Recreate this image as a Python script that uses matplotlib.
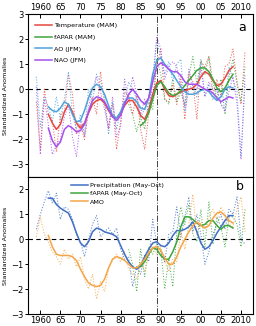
import matplotlib
matplotlib.use('Agg')
import matplotlib.pyplot as plt
import numpy as np

# annual values (dotted) and smoothed values (solid)
YEARS_ANN = np.arange(1959, 2012)
YEARS_SM = np.arange(1962, 2009)
YEARS_FP_ANN = np.arange(1982, 2012)
YEARS_FP_SM = np.arange(1985, 2009)

temp_ann = [-0.5, -2.4,
            0.0, -1.0, -1.3, -2.5, -1.0, -0.9, 0.6, -0.2, -1.8, -1.4,
            -2.0, -0.9, -0.3, -1.0, 0.7, -0.6, -1.5, -0.6, -2.4, -1.3,
            -0.1, -0.3, -1.0, -0.2, -1.6, -2.4, -1.0, -0.3, 0.9, 1.6,
            -0.4, -0.5, 0.2, -0.6, 0.5, -1.2, 0.6, 0.3, -1.2, 1.1,
            0.9, 1.3, -0.2, 0.4, -0.3, 0.9, 1.0, 1.6, 0.3, -0.6, 1.5]
ao_ann = [0.5, -1.5,
          -0.3, -0.7, -1.3, -0.3, -1.2, -0.4, 0.7, -1.0, -1.6, -1.0,
          -1.8, 0.0, -0.5, 0.6, 0.3, -0.3, -1.8, -0.5, -1.6, -0.9,
          -0.5, 0.3, 0.0, -0.4, -1.1, -0.8, -0.9, 0.4, 1.9, 1.3,
          0.6, 1.1, 0.3, 1.0, 1.2, -0.9, 0.0, 0.2, -0.3, 1.1,
          -0.3, 0.2, -0.4, 0.0, -0.6, -0.8, 0.9, 0.4, -0.1, -2.7, 0.2]
nao_ann = [0.1, -2.6,
           -0.4, -1.4, -2.6, -2.2, -2.0, -1.1, -0.6, -1.9, -2.7, -1.2,
           -1.9, -0.7, 0.0, 0.5, -0.1, -0.8, -1.6, -0.3, -1.9, -1.5,
           0.4, -0.5, 0.5, -0.2, -1.0, -0.4, -0.9, 0.3, 2.1, 1.6,
           0.4, 0.9, 1.1, 0.9, 0.1, -0.7, 0.8, 0.1, 0.0, 0.9,
           -0.3, 0.3, 0.0, 0.0, -0.6, -0.9, -0.1, 0.5, -0.6, -2.8, 0.6]
fapar_mam_ann = [-0.6, -1.0, -1.7, -1.1, -1.6, -0.5, -0.8, 1.2, 0.6,
                 -0.4, -0.6, 0.4, -0.5, -0.1, -0.6, 0.5, 1.3, 0.2, 1.2,
                 0.6, 1.3, 0.3, -0.4, 0.4, -1.0, 0.5, 1.2, 0.2, -0.5, 0.9]

temp_sm = [-1.0, -1.35, -1.6, -1.4, -0.9, -0.6, -0.9, -1.35, -1.55,
           -1.35, -0.95, -0.6, -0.45, -0.4, -0.55, -0.85, -1.1, -1.15, -0.95,
           -0.65, -0.45, -0.45, -0.7, -1.05, -1.2, -0.85, -0.2, 0.25, 0.35,
           0.0, -0.25, -0.3, -0.2, -0.1, -0.05, 0.0, 0.05, 0.2, 0.5,
           0.7, 0.6, 0.35, 0.15, 0.2, 0.45, 0.75, 0.9]
ao_sm = [-0.7, -0.85, -0.9, -0.75, -0.5, -0.6, -1.0, -1.3, -1.25,
         -0.85, -0.35, 0.05, 0.2, 0.1, -0.2, -0.65, -1.05, -1.15, -0.9,
         -0.5, -0.35, -0.35, -0.5, -0.75, -0.8, -0.35, 0.6, 1.15, 1.25,
         1.0, 0.8, 0.6, 0.35, 0.1, -0.1, -0.2, -0.2, -0.15, -0.05,
         0.0, -0.1, -0.3, -0.45, -0.3, 0.0, 0.1, 0.05]
nao_sm = [-1.55, -2.05, -2.3, -2.1, -1.6, -1.45, -1.55, -1.7, -1.65,
          -1.4, -0.9, -0.45, -0.3, -0.35, -0.5, -0.8, -1.1, -1.25, -1.05,
          -0.6, -0.2, 0.0, -0.2, -0.45, -0.6, -0.35, 0.3, 0.9, 1.05,
          0.95, 0.8, 0.7, 0.7, 0.55, 0.3, 0.2, 0.2, 0.2, 0.1,
          0.0, -0.05, -0.15, -0.35, -0.5, -0.4, -0.3, -0.35]
fapar_mam_sm = [-1.45, -1.3, -0.95, -0.4, 0.15, 0.3, 0.1, -0.15, -0.25, -0.2,
                -0.05, 0.15, 0.35, 0.55, 0.75, 0.85, 0.85, 0.7, 0.4, 0.05,
                -0.1, 0.05, 0.35, 0.6]

precip_ann = [0.4, 1.0,
              1.5, 1.95, 1.45, 1.85, 0.8, 1.3, 1.2, 0.8, 0.2, -0.1,
              -0.7, 0.0, 0.6, 0.95, 0.1, 0.3, 0.45, 0.2, 0.45, -0.4,
              -0.8, -0.7, -1.9, -1.1, -1.4, -0.6, -0.9, 0.8, -0.2, -0.5,
              -0.9, 0.2, 0.3, 1.3, 0.1, 0.9, 1.7, 0.3, 1.0, 0.2,
              -1.0, -0.5, 0.2, 0.6, 1.0, 0.4, 1.2, 1.0, 1.7, 0.0, -0.2]
amo_ann = [0.1, 0.9,
           0.2, -0.1, -0.5, -0.7, -1.0, -0.4, -0.8, -0.6, -1.1, -0.7,
           -1.6, -2.0, -1.4, -2.4, -1.7, -2.1, -1.2, -0.8, -0.6, -0.9,
           -0.5, -1.2, -1.4, -1.6, -0.9, -1.3, -0.6, -0.2, -0.6, -0.3,
           -0.9, -1.3, -0.8, -0.9, 0.3, -0.4, 0.6, 1.8, 0.2, 0.7,
           0.5, 0.9, 1.2, 0.8, 1.3, 1.0, 0.6, 0.5, 1.2, 1.7, 0.3]
fapar_mo_ann = [-0.4, -1.0, -2.1, -0.4, -1.5, -0.3, -0.6, -0.2, -0.4,
                -2.0, -0.8, -1.9, 0.3, 1.3, 0.6, 1.4, 0.2, -0.1, 1.2,
                -0.3, 1.5, -0.2, 0.9, 0.5, -0.3, 0.9, 0.9, 0.6, -0.3, 1.2]

precip_sm = [1.65, 1.65, 1.4, 1.25, 1.15, 1.05, 0.7, 0.25, -0.15,
             -0.3, -0.1, 0.3, 0.45, 0.4, 0.3, 0.25, 0.2, 0.1, -0.25,
             -0.6, -0.9, -1.1, -1.2, -1.05, -0.7, -0.4, -0.15, -0.1, -0.25,
             -0.3, -0.15, 0.15, 0.35, 0.35, 0.4, 0.5, 0.7, 0.3, -0.15,
             -0.4, -0.3, -0.05, 0.25, 0.5, 0.75, 0.95, 0.95]
amo_sm = [0.15, -0.3, -0.6, -0.65, -0.65, -0.65, -0.7, -0.85, -1.2,
          -1.5, -1.75, -1.85, -1.9, -1.85, -1.6, -1.15, -0.8, -0.7, -0.75,
          -0.85, -1.0, -1.15, -1.15, -1.0, -0.8, -0.55, -0.35, -0.3, -0.45,
          -0.75, -1.0, -1.0, -0.7, -0.3, 0.0, 0.3, 0.55, 0.7, 0.55,
          0.45, 0.55, 0.85, 1.05, 1.1, 0.95, 0.75, 0.65]
fapar_mo_sm = [-1.1, -0.9, -0.6, -0.35, -0.4, -0.65, -0.8, -0.8, -0.5, -0.1,
               0.5, 0.9, 0.9, 0.8, 0.65, 0.55, 0.6, 0.75, 0.75, 0.55,
               0.4, 0.55, 0.55, 0.45]

XTICKS = [1960, 1965, 1970, 1975, 1980, 1985, 1990, 1995, 2000, 2005, 2010]
XTICKLABELS = ['1960', '65', '70', '75', '80', '85', '90', '95', '00', '05', '2010']

RED, GREEN, LBLUE, PURPLE = '#e8463e', '#3ea53c', '#4ea2dc', '#a650ee'
BLUE, ORANGE = '#3f6fc6', '#f5a548'

fig = plt.figure(figsize=(2.56, 3.26), dpi=100)
ax_a = fig.add_axes([0.1105, 0.457, 0.878, 0.500])
ax_b = fig.add_axes([0.1105, 0.0368, 0.878, 0.4202])

TS = 6
for ax in (ax_a, ax_b):
    ax.set_xlim(1957, 2013)
    ax.axhline(0, color='k', lw=0.8, ls=(0, (4, 3)), zorder=1)
    ax.axvline(1989, color='#444444', lw=0.7, ls='-.', zorder=1)
    ax.set_xticks(XTICKS)
    ax.set_ylabel('Standardized Anomalies', fontsize=4.6, labelpad=2)
    for s in ax.spines.values():
        s.set_linewidth(0.8)
    ax.tick_params(axis='y', direction='out', length=2.5, width=0.7,
                   labelsize=TS, pad=1)
    ax.tick_params(axis='x', direction='in', length=3, width=0.7,
                   labelsize=TS, pad=1.5)

# panel a
ax_a.set_ylim(-3.5, 3)
ax_a.set_yticks(range(-3, 4))
ax_a.set_yticklabels(['\u22123', '\u22122', '\u22121', '0', '1', '2', '3'])
ax_a.xaxis.tick_top()
ax_a.set_xticklabels(XTICKLABELS)

dot = dict(ls=':', lw=0.75, alpha=0.85)
sol = dict(lw=1.1)
ax_a.plot(YEARS_ANN, temp_ann, color=RED, **dot)
ax_a.plot(YEARS_FP_ANN, fapar_mam_ann, color=GREEN, **dot)
ax_a.plot(YEARS_ANN, ao_ann, color=LBLUE, **dot)
ax_a.plot(YEARS_ANN, nao_ann, color=PURPLE, **dot)
ax_a.plot(YEARS_SM, temp_sm, color=RED, label='Temperature (MAM)', **sol)
ax_a.plot(YEARS_FP_SM, fapar_mam_sm, color=GREEN, label='fAPAR (MAM)', **sol)
ax_a.plot(YEARS_SM, ao_sm, color=LBLUE, label='AO (JFM)', **sol)
ax_a.plot(YEARS_SM, nao_sm, color=PURPLE, label='NAO (JFM)', **sol)
ax_a.legend(loc='upper left', bbox_to_anchor=(0.03, 0.945), frameon=False,
            fontsize=4.6, handlelength=2.6, handletextpad=0.3,
            labelspacing=0.95, borderpad=0, borderaxespad=0)
ax_a.text(0.95, 0.92, 'a', transform=ax_a.transAxes, fontsize=9,
          ha='center', va='center')

# panel b
ax_b.set_ylim(-3, 2.5)
ax_b.set_yticks(range(-3, 3))
ax_b.set_yticklabels(['\u22123', '\u22122', '\u22121', '0', '1', '2'])
ax_b.set_xticklabels(XTICKLABELS)

ax_b.plot(YEARS_ANN, precip_ann, color=BLUE, **dot)
ax_b.plot(YEARS_FP_ANN, fapar_mo_ann, color=GREEN, **dot)
ax_b.plot(YEARS_ANN, amo_ann, color=ORANGE, **dot)
ax_b.plot(YEARS_SM, precip_sm, color=BLUE, label='Precipitation (May-Oct)', **sol)
ax_b.plot(YEARS_FP_SM, fapar_mo_sm, color=GREEN, label='fAPAR (May-Oct)', **sol)
ax_b.plot(YEARS_SM, amo_sm, color=ORANGE, label='AMO', **sol)
ax_b.legend(loc='upper left', bbox_to_anchor=(0.19, 0.96), frameon=False,
            fontsize=4.6, handlelength=2.6, handletextpad=0.3,
            labelspacing=0.45, borderpad=0, borderaxespad=0)
ax_b.text(0.94, 0.93, 'b', transform=ax_b.transAxes, fontsize=9,
          ha='center', va='center')

fig.savefig('out.png', dpi=100)
